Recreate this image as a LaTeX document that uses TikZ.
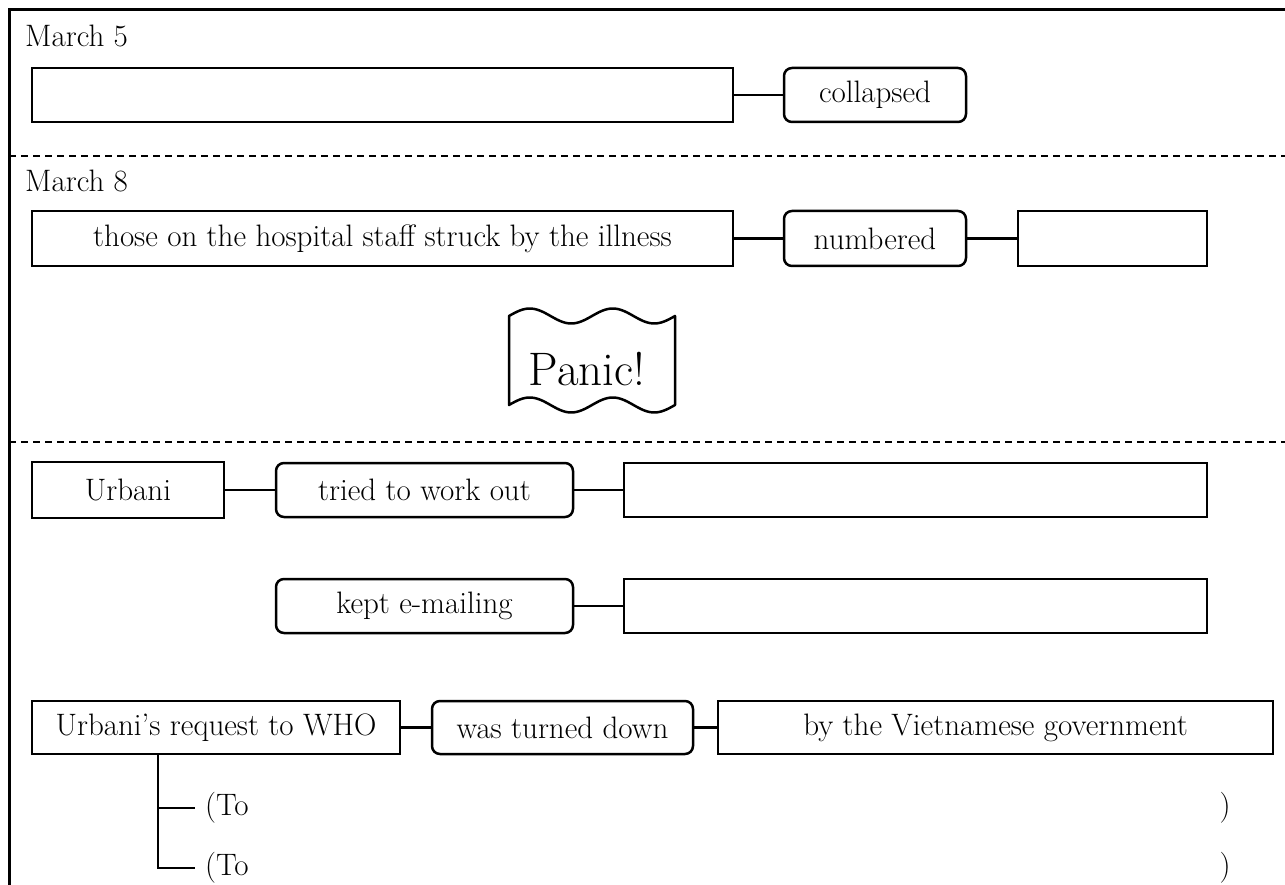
\documentclass[tikz,border=0pt]{standalone}
\begin{document}
\begin{tikzpicture}[x=1pt,y=-1pt,
  every node/.style={font=\fontsize{31}{37}\selectfont},
  sq/.style={draw,line width=2.5pt,rectangle,inner sep=0pt,outer sep=0pt},
  rd/.style={draw,line width=2.5pt,rectangle,rounded corners=8pt,inner sep=0pt,outer sep=0pt},
  conn/.style={line width=2.2pt},
  sep/.style={line width=2.6pt,dash pattern=on 7pt off 5pt},
  lbl/.style={inner sep=0pt,anchor=base west}]
\useasboundingbox (0,0) rectangle (1285,885);
% frame
\draw[line width=3pt] (9,885) -- (9,10) -- (1285,10);
% separators
\draw[sep] (9,156) -- (1285,156);
\draw[sep] (9,442) -- (1285,442);
% March 5
\node[lbl] (m5) at (25,47) {March 5};
\node[sq,minimum width=701,minimum height=54] (b1) at (382.5,95) {};
\node[rd,minimum width=182,minimum height=54] (coll) at (875,95) {collapsed};
\draw[conn] (b1.east) -- (coll.west);
% March 8
\node[lbl] (m8) at (25,192) {March 8};
\node[sq,minimum width=701,minimum height=55] (b2) at (382.5,238.5) {those on the hospital staff struck by the illness};
\node[rd,minimum width=182,minimum height=55] (numb) at (875,238.5) {numbered};
\node[sq,minimum width=189,minimum height=55] (b3) at (1112.5,238.5) {};
\draw[conn] (b2.east) -- (numb.west);
\draw[conn] (numb.east) -- (b3.west);
% Panic
\draw[line width=2.5pt,line join=round]
 plot[smooth,domain=0:166,samples=60] ({509+\x},{316-7.5*sin(4.3373*\x)})
 -- plot[smooth,domain=166:0,samples=60] ({509+\x},{405-7.5*sin(4.3373*\x)})
 -- cycle;
\node[inner sep=0pt,font=\fontsize{47}{54}\selectfont] (panic) at (587,369) {Panic!};
% Urbani row
\node[sq,minimum width=192,minimum height=56] (urb) at (128,490) {Urbani};
\node[rd,minimum width=297,minimum height=54] (tried) at (424.5,490) {tried to work out};
\node[sq,minimum width=583,minimum height=54] (b4) at (915.5,490) {};
\draw[conn] (urb.east) -- (tried.west);
\draw[conn] (tried.east) -- (b4.west);
% kept e-mailing
\node[rd,minimum width=297,minimum height=54] (kept) at (424.5,606) {kept e-mailing};
\node[sq,minimum width=583,minimum height=54] (b5) at (915.5,606) {};
\draw[conn] (kept.east) -- (b5.west);
% request row
\node[sq,minimum width=368,minimum height=53] (req) at (216,727.5) {Urbani's request to WHO};
\node[rd,minimum width=261,minimum height=53] (turn) at (562.5,727.5) {was turned down};
\node[sq,minimum width=555,minimum height=53] (gov) at (995.5,727.5) {by the Vietnamese government};
\draw[conn] (req.east) -- (turn.west);
\draw[conn] (turn.east) -- (gov.west);
% tree
\coordinate (ta) at (158,808);
\coordinate (tb) at (158,868);
\node[inner sep=0pt,anchor=west] (toa) at (205,808) {(To};
\node[inner sep=0pt,anchor=west] (tob) at (205,868) {(To};
\node[inner sep=0pt] (pa) at (1225,808) {)};
\node[inner sep=0pt] (pb) at (1225,868) {)};
\draw[conn] (req.south -| ta) -- (tb) -- ([xshift=-10pt]tob.west);
\draw[conn] (ta) -- ([xshift=-10pt]toa.west);
\end{tikzpicture}
\end{document}
